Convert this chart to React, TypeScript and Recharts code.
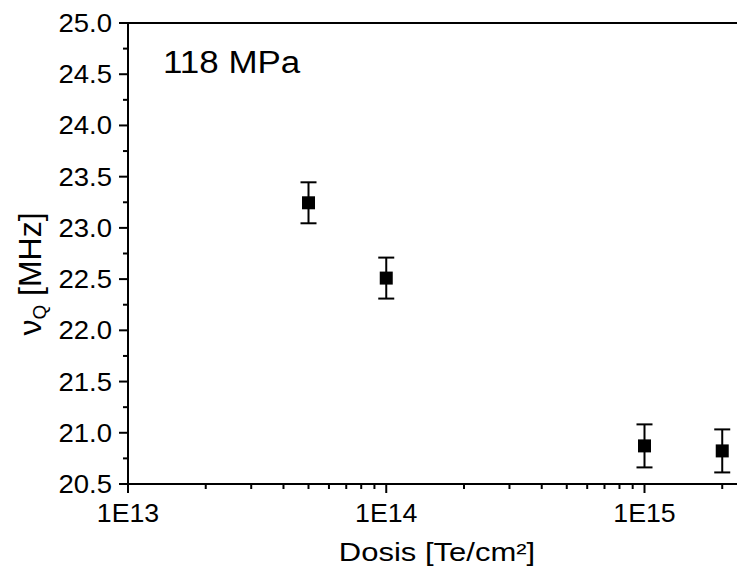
import React from 'react';
import { ScatterChart, Scatter, XAxis, YAxis, ErrorBar, ReferenceLine } from 'recharts';

// ---- data ----
const doses = [5e13, 1e14, 1e15, 2e15];
const nuQ = [23.245, 22.51, 20.872, 20.823];
const nuQErr = [0.2, 0.2, 0.21, 0.21];

const xTicks = [
  1e13, 2e13, 3e13, 4e13, 5e13, 6e13, 7e13, 8e13, 9e13,
  1e14, 2e14, 3e14, 4e14, 5e14, 6e14, 7e14, 8e14, 9e14,
  1e15, 2e15,
];
const xMajorTicks = [1e13, 1e14, 1e15];
const xTickLabels = ['1E13', '1E14', '1E15'];

const yTicks = [
  20.5, 20.75, 21.0, 21.25, 21.5, 21.75, 22.0, 22.25, 22.5, 22.75,
  23.0, 23.25, 23.5, 23.75, 24.0, 24.25, 24.5, 24.75, 25.0,
];
const yMajorTicks = [20.5, 21.0, 21.5, 22.0, 22.5, 23.0, 23.5, 24.0, 24.5, 25.0];
const yTickLabels = ['20.5', '21.0', '21.5', '22.0', '22.5', '23.0', '23.5', '24.0', '24.5', '25.0'];

const xDomain = [1e13, 2.45e15];
const yDomain = [20.5, 25.0];

const panelLabel = '118 MPa';
const xTitle = 'Dosis [Te/cm²]';

const data = doses.map((d, i) => ({ x: d, y: nuQ[i], err: nuQErr[i] }));

const FONT = '"Liberation Sans", Arial, sans-serif';

const isMajorY = (v: number) => yMajorTicks.some((m) => Math.abs(m - v) < 1e-9);
const isMajorX = (v: number) => xMajorTicks.some((m) => Math.abs(m - v) / m < 1e-9);

const YTickLeft = (props: any) => {
  const { x, y, payload } = props;
  const v = payload.value;
  const major = isMajorY(v);
  const idx = yMajorTicks.findIndex((m) => Math.abs(m - v) < 1e-9);
  return (
    <g>
      <line x1={x} x2={x - (major ? 9 : 5)} y1={y} y2={y} stroke="#000" strokeWidth={2} />
      {major && (
        <text
          transform={`translate(${x - 16},${y}) scale(1.1,1)`}
          textAnchor="end"
          dy="0.36em"
          fontSize={25}
          fontFamily={FONT}
          fill="#000"
        >
          {yTickLabels[idx]}
        </text>
      )}
    </g>
  );
};

const YTickRight = (props: any) => {
  const { x, y, payload } = props;
  const major = isMajorY(payload.value);
  return <line x1={x} x2={x - (major ? 9 : 5)} y1={y} y2={y} stroke="#000" strokeWidth={2} />;
};

const XTick = (props: any) => {
  const { x, y, payload } = props;
  const v = payload.value;
  const major = isMajorX(v);
  const idx = xMajorTicks.findIndex((m) => Math.abs(m - v) / m < 1e-9);
  return (
    <g>
      <line x1={x} x2={x} y1={y} y2={y + (major ? 9 : 5)} stroke="#000" strokeWidth={2} />
      {major && (
        <text
          transform={`translate(${x},${y + 37.5}) scale(1.07,1)`}
          textAnchor="middle"
          fontSize={25}
          fontFamily={FONT}
          fill="#000"
        >
          {xTickLabels[idx]}
        </text>
      )}
    </g>
  );
};

const SquareShape = (props: any) => {
  const { cx, cy } = props;
  return <rect x={cx - 6.5} y={cy - 6.5} width={13} height={13} fill="#000" />;
};

export default function App() {
  return (
    <div
      style={{
        position: 'absolute',
        left: 0,
        top: 0,
        width: 737,
        height: 569,
        overflow: 'hidden',
        background: '#fff',
      }}
    >
      <ScatterChart width={760} height={569} margin={{ top: 23, right: 15, bottom: 0, left: 0 }}>
        <XAxis
          type="number"
          dataKey="x"
          scale="log"
          domain={xDomain}
          allowDataOverflow
          ticks={xTicks}
          interval={0}
          tick={<XTick />}
          tickLine={false}
          tickSize={0}
          tickMargin={0}
          axisLine={{ stroke: '#000', strokeWidth: 2 }}
          height={85}
        />
        <YAxis
          yAxisId="left"
          type="number"
          dataKey="y"
          domain={yDomain}
          allowDataOverflow
          ticks={yTicks}
          interval={0}
          tick={<YTickLeft />}
          tickLine={false}
          tickSize={0}
          tickMargin={0}
          axisLine={{ stroke: '#000', strokeWidth: 2 }}
          width={128}
        />
        <YAxis
          yAxisId="right"
          orientation="right"
          type="number"
          domain={yDomain}
          allowDataOverflow
          ticks={yMajorTicks}
          interval={0}
          tick={<YTickRight />}
          tickLine={false}
          tickSize={0}
          tickMargin={0}
          axisLine={{ stroke: '#000', strokeWidth: 2 }}
          width={0}
        />
        <ReferenceLine yAxisId="left" y={25} stroke="#000" strokeWidth={2} />
        <Scatter yAxisId="left" data={data} shape={<SquareShape />} isAnimationActive={false}>
          <ErrorBar dataKey="err" direction="y" width={8} stroke="#000" strokeWidth={2} />
        </Scatter>
      </ScatterChart>
      <svg
        width={737}
        height={569}
        style={{ position: 'absolute', left: 0, top: 0, pointerEvents: 'none' }}
      >
        <text
          transform="translate(163,72.7) scale(1.11,1)"
          fontSize={31.5}
          fontFamily={FONT}
          fill="#000"
        >
          {panelLabel}
        </text>
        <text
          transform="translate(437,560.5) scale(1.24,1)"
          textAnchor="middle"
          fontSize={25}
          fontFamily={FONT}
          fill="#000"
        >
          {xTitle}
        </text>
        <text
          transform="translate(41,274) rotate(-90)"
          textAnchor="middle"
          fontSize={32}
          fontFamily={FONT}
          fill="#000"
        >
          ν
          <tspan fontSize={19} dy={5}>
            Q
          </tspan>
          <tspan dy={-5}> [MHz]</tspan>
        </text>
      </svg>
    </div>
  );
}
